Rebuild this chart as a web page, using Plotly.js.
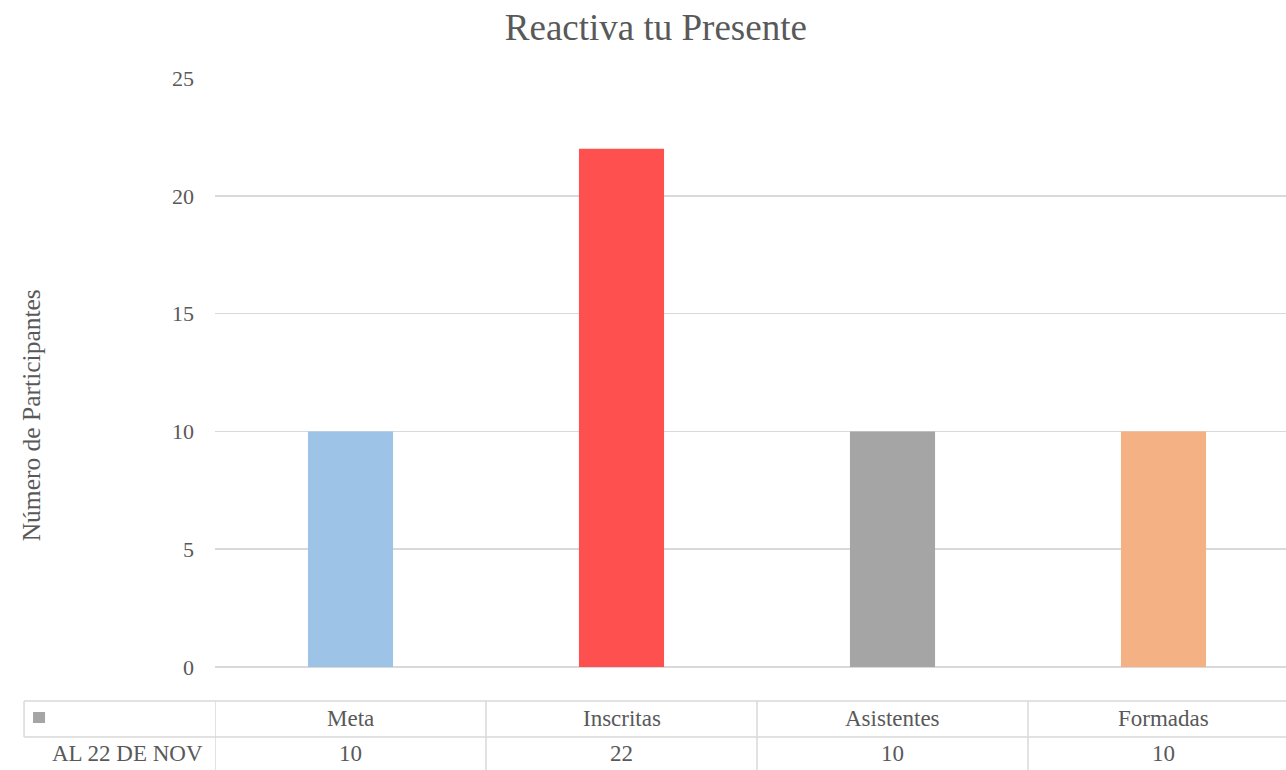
<!DOCTYPE html>
<html>
<head>
<meta charset="utf-8">
<script src="https://cdn.plot.ly/plotly-3.0.1.min.js"></script>
<style>html,body{margin:0;padding:0;background:#fff;}#chart{width:1286px;height:770px;}</style>
</head>
<body>
<div id="chart"></div>
<script>
const categories = ["Meta", "Inscritas", "Asistentes", "Formadas"];
const values = [10, 22, 10, 10];
const seriesName = "AL 22 DE NOV";
const barColors = ["#9dc3e6", "#ff5050", "#a5a5a5", "#f4b183"];
const yTicks = [0, 5, 10, 15, 20, 25];
const yTitle = "Número de Participantes";
const chartTitle = "Reactiva tu Presente";

const textColor = "#595959";
const gridColor = "#d9d9d9";
const font = "Liberation Serif, Times New Roman, serif";

const trace = {
  type: "bar",
  x: categories,
  y: values,
  name: seriesName,
  marker: {color: barColors},
  hoverinfo: "x+y"
};

// table geometry (paper coords relative to plot area)
const yTop = -0.0577, yMid = -0.1188, yBot = -0.18;
const shapes = [];
const lineStyle = {color: gridColor, width: 1.5};
shapes.push({type: "line", xref: "paper", yref: "paper", x0: -0.1783, x1: 1, y0: yTop, y1: yTop, line: lineStyle});
shapes.push({type: "line", xref: "paper", yref: "paper", x0: -0.1783, x1: 1, y0: yMid, y1: yMid, line: lineStyle});
shapes.push({type: "line", xref: "paper", yref: "paper", x0: -0.1783, x1: -0.1783, y0: yTop, y1: yMid, line: lineStyle});
for (let i = 0; i < categories.length; i++) {
  shapes.push({type: "line", xref: "x", yref: "paper", x0: i - 0.5, x1: i - 0.5, y0: yTop, y1: yBot, line: lineStyle});
}
// legend key square
shapes.push({type: "rect", xref: "paper", yref: "paper", x0: -0.1699, x1: -0.1587, y0: -0.0764, y1: -0.0951, fillcolor: "#a5a5a5", line: {width: 0}});

const annotations = [];
categories.forEach((c, i) => {
  annotations.push({xref: "x", yref: "paper", x: i, y: (yTop + yMid) / 2, text: c, showarrow: false,
    font: {family: font, size: 23, color: textColor}, xanchor: "center", yanchor: "middle"});
  annotations.push({xref: "x", yref: "paper", x: i, y: (yMid + yBot) / 2 + 0.003, text: String(values[i]), showarrow: false,
    font: {family: font, size: 23, color: textColor}, xanchor: "center", yanchor: "middle"});
});
annotations.push({xref: "paper", yref: "paper", x: -0.0093, y: (yMid + yBot) / 2 + 0.003, text: seriesName, showarrow: false,
  font: {family: font, size: 23, color: textColor}, xanchor: "right", yanchor: "middle"});
// y-axis title
annotations.push({xref: "paper", yref: "paper", x: -0.1717, y: 0.4275, text: yTitle, showarrow: false, textangle: -90,
  font: {family: font, size: 25.5, color: textColor}, xanchor: "center", yanchor: "middle"});

const layout = {
  width: 1286,
  height: 770,
  margin: {l: 215, r: 0, t: 78, b: 103, pad: 0},
  paper_bgcolor: "#ffffff",
  plot_bgcolor: "#ffffff",
  showlegend: false,
  bargap: 0.686,
  title: {
    text: chartTitle,
    font: {family: font, size: 37, color: textColor},
    x: 0.51, xref: "container", xanchor: "center",
    y: 0.965, yref: "container", yanchor: "middle"
  },
  xaxis: {
    type: "category",
    showticklabels: false,
    showgrid: false,
    zeroline: false,
    showline: false,
    ticks: "",
    range: [-0.5, 3.452],
    fixedrange: true
  },
  yaxis: {
    range: [0, 25],
    tickvals: yTicks,
    ticktext: yTicks.map(String),
    showgrid: true,
    gridcolor: gridColor,
    gridwidth: 1.5,
    zeroline: true,
    zerolinecolor: gridColor,
    zerolinewidth: 1.5,
    showline: false,
    ticks: "",
    ticklabelstandoff: 20,
    tickfont: {family: font, size: 22, color: textColor},
    automargin: false,
    fixedrange: true
  },
  shapes: shapes,
  annotations: annotations
};

Plotly.newPlot("chart", [trace], layout, {displayModeBar: false, staticPlot: true});
</script>
</body>
</html>
